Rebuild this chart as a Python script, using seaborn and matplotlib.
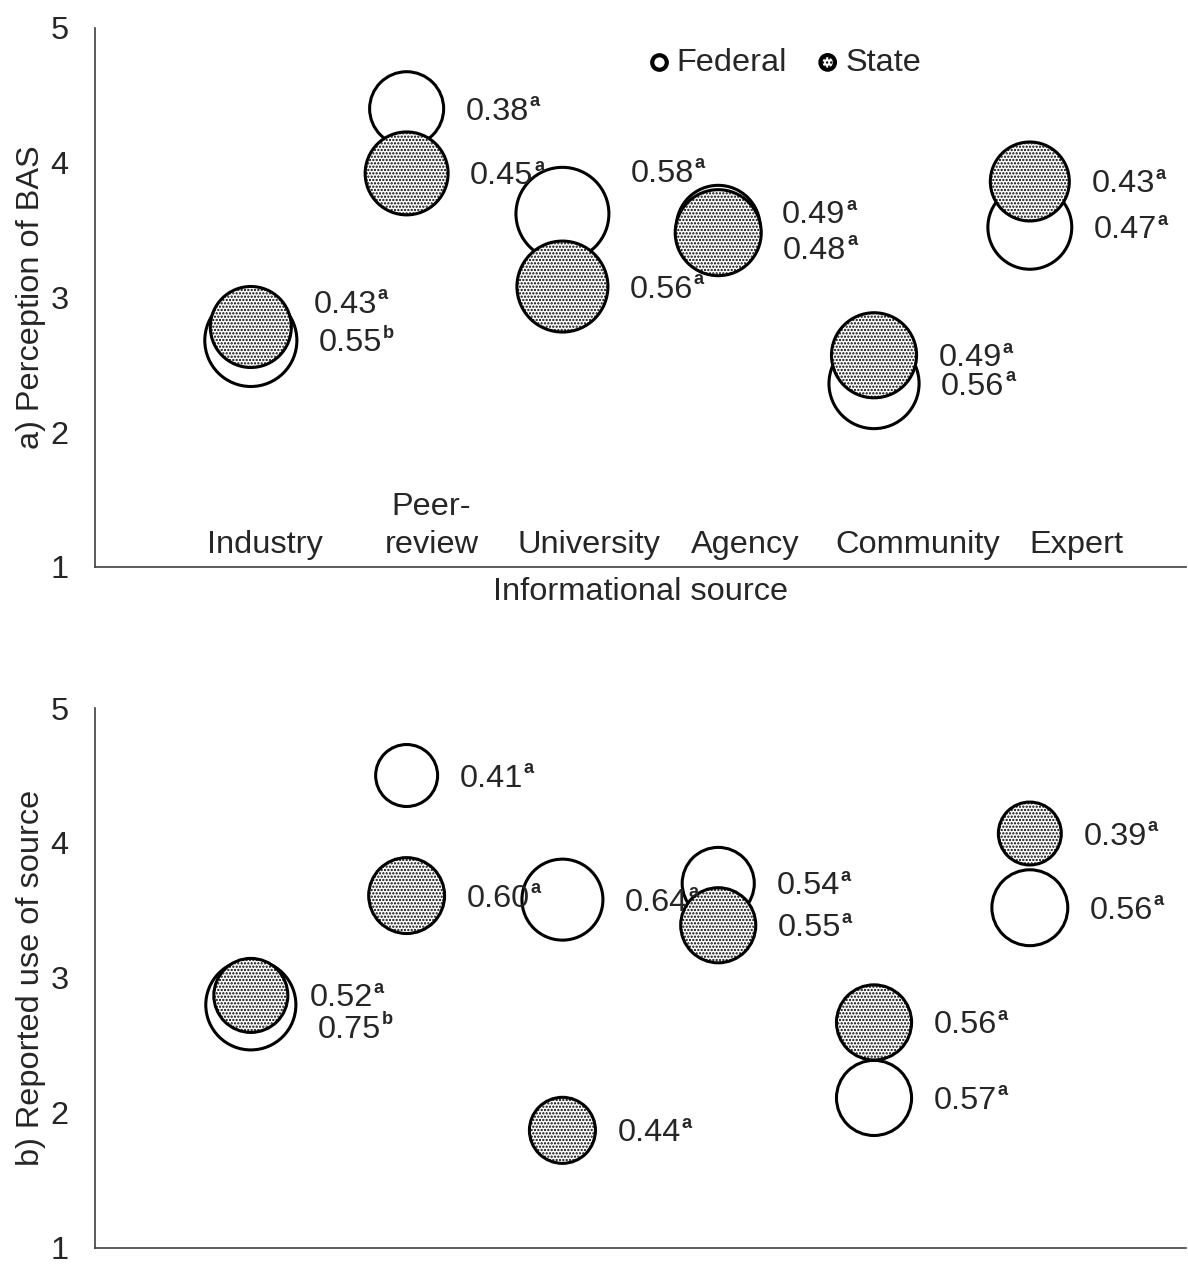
import numpy as np
import pandas as pd
import matplotlib
matplotlib.use('Agg')
import matplotlib.pyplot as plt
import seaborn as sns

# Data
sources = ['Industry', 'Peer-\nreview', 'University', 'Agency', 'Community', 'Expert']
source_x = [1, 2, 3, 4, 5, 6]

# a) Perception of BAS : mean score, bubble size, label value, letter
perc_federal = [2.68, 4.40, 3.62, 3.52, 2.36, 3.52]
perc_state = [2.78, 3.92, 3.08, 3.48, 2.57, 3.86]
perc_federal_size = [21.2, 13.7, 21.6, 17.6, 20.3, 17.6]
perc_state_size = [16.4, 17.2, 20.7, 18.5, 18.1, 15.6]
perc_federal_lab = ['0.55', '0.38', '0.58', '0.49', '0.56', '0.47']
perc_federal_sup = ['b', 'a', 'a', 'a', 'a', 'a']
perc_state_lab = ['0.43', '0.45', '0.56', '0.48', '0.49', '0.43']
perc_state_sup = ['a', 'a', 'a', 'a', 'a', 'a']

# b) Reported use of source
use_federal = [2.80, 4.50, 3.58, 3.70, 2.11, 3.52]
use_state = [2.87, 3.61, 1.87, 3.39, 2.67, 4.07]
use_federal_size = [20.3, 9.6, 16.4, 13.0, 14.1, 14.4]
use_state_size = [13.7, 14.4, 10.9, 14.1, 14.1, 9.9]
use_federal_lab = ['0.75', '0.41', '0.64', '0.54', '0.57', '0.56']
use_federal_sup = ['b', 'a', 'a', 'a', 'a', 'a']
use_state_lab = ['0.52', '0.60', '0.44', '0.55', '0.56', '0.39']
use_state_sup = ['a', 'a', 'a', 'a', 'a', 'a']

# label nudges (pixels) where labels were moved off overlapping bubbles
perc_federal_dy = [0, 0, 43, 15, 0, 0]
perc_state_dy = [25, 0, 0, -15, 0, 0]
use_federal_dy = [-22, 0, 0, 0, 0, 0]
use_state_dy = [0, 0, 0, 0, 0, 0]

sns.set_style('white')
plt.rcParams['font.family'] = ['Liberation Sans', 'DejaVu Sans']
plt.rcParams['hatch.linewidth'] = 1.1

FS = 23.4
TXT = '#262626'
PX = 72 / 100  # points per pixel at dpi 100
SMAX = 25
SIZES = (0, SMAX * (2 * 10 * PX) ** 2)

fig = plt.figure(figsize=(11.88, 12.68), dpi=100)
ax1 = fig.add_axes([0.08, 0.553, 0.918, 0.425])
ax2 = fig.add_axes([0.08, 0.016, 0.918, 0.4256])


def draw_panel(ax, fed, st, fed_size, st_size, fed_lab, fed_sup, st_lab, st_sup, fed_dy, st_dy):
    df_f = pd.DataFrame({'x': source_x, 'y': fed, 'size': fed_size})
    df_s = pd.DataFrame({'x': source_x, 'y': st, 'size': st_size})
    sns.scatterplot(data=df_f, x='x', y='y', size='size', sizes=SIZES, size_norm=(0, SMAX),
                    color='white', edgecolor='black', linewidth=2.2, legend=False, ax=ax, zorder=2)
    sns.scatterplot(data=df_s, x='x', y='y', size='size', sizes=SIZES, size_norm=(0, SMAX),
                    color='white', edgecolor='black', linewidth=2.2, hatch='.....',
                    legend=False, ax=ax, zorder=3)
    for d, lab, sup, dy in [(df_f, fed_lab, fed_sup, fed_dy), (df_s, st_lab, st_sup, st_dy)]:
        for i in range(len(d)):
            r = 10 * np.sqrt(d['size'][i])
            t = ax.annotate(lab[i], xy=(d['x'][i], d['y'][i]),
                            xytext=((r + 22) * PX, (dy[i] - 11) * PX), textcoords='offset points',
                            ha='left', va='baseline', fontsize=FS, color=TXT, zorder=4)
            # superscript letter, set after the number
            ax.annotate(sup[i], xy=(1, 0), xycoords=t, xytext=(0.5, 14.8),
                        textcoords='offset points', ha='left', va='baseline',
                        fontsize=FS * 0.56, fontweight='bold', color=TXT, zorder=4)
    ax.set_xlim(0, 7)
    ax.set_ylim(1, 5)
    ax.set_xticks([])
    ax.set_yticks([1, 2, 3, 4, 5])
    ax.tick_params(axis='y', length=0, pad=19, labelsize=FS, labelcolor=TXT)
    sns.despine(ax=ax)
    for sp in ['left', 'bottom']:
        ax.spines[sp].set_color('#404040')
        ax.spines[sp].set_linewidth(1.2)


draw_panel(ax1, perc_federal, perc_state, perc_federal_size, perc_state_size,
           perc_federal_lab, perc_federal_sup, perc_state_lab, perc_state_sup,
           perc_federal_dy, perc_state_dy)
draw_panel(ax2, use_federal, use_state, use_federal_size, use_state_size,
           use_federal_lab, use_federal_sup, use_state_lab, use_state_sup,
           use_federal_dy, use_state_dy)

# category names sit inside the top panel
label_shift = [0.09, 0.16, 0.17, 0.17, 0.28, 0.30]
for x, name, sh in zip(source_x, sources, label_shift):
    ax1.text(x + sh, 1.05, name, ha='center', va='bottom', fontsize=FS, color=TXT,
             linespacing=1.35)

ax1.set_xlabel('Informational source', fontsize=FS, color=TXT, labelpad=7)
ax1.set_ylabel('a) Perception of BAS', fontsize=FS, color=TXT, labelpad=3)
ax2.set_xlabel('')
ax2.set_ylabel('b) Reported use of source', fontsize=FS, color=TXT, labelpad=3)

# legend
h_f = ax1.scatter([], [], s=110, color='white', edgecolor='black', linewidth=3)
h_s = ax1.scatter([], [], s=110, color='white', edgecolor='black', linewidth=3, hatch='....')
ax1.legend([h_f, h_s], ['Federal', 'State'], loc='center left', bbox_to_anchor=(0.508, 0.935),
           ncol=2, frameon=False, fontsize=FS, handletextpad=0.25, columnspacing=0.95,
           handlelength=0.6, borderpad=0, borderaxespad=0)

fig.savefig('out.png', dpi=100)
